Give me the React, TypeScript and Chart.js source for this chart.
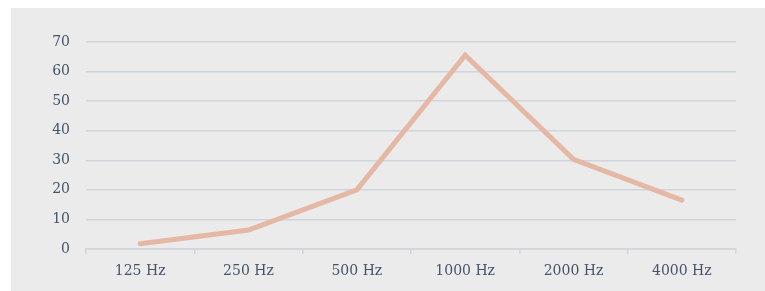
import React, { useEffect, useRef } from "react";
import { Chart, registerables } from "chart.js";

Chart.register(...registerables);

const categories = ["125 Hz", "250 Hz", "500 Hz", "1000 Hz", "2000 Hz", "4000 Hz"];
const values = [1.8, 6.4, 20, 65.5, 30.3, 16.5];
const yMin = 0;
const yMax = 70;
const yStep = 10;

export default function App() {
  const ref = useRef<HTMLCanvasElement | null>(null);
  useEffect(() => {
    if (!ref.current) return;
    const font = { family: "'DejaVu Serif', serif", size: 14 };
    const chart = new Chart(ref.current, {
      type: "line",
      data: {
        labels: categories,
        datasets: [
          {
            data: values,
            borderColor: "#e5b8a6",
            backgroundColor: "#e5b8a6",
            borderWidth: 5,
            borderCapStyle: "round",
            pointRadius: 0,
            tension: 0,
          },
        ],
      },
      options: {
        animation: false,
        responsive: false,
        maintainAspectRatio: false,
        layout: { padding: { top: 34, right: 29, bottom: 0, left: 0 } },
        plugins: { legend: { display: false }, tooltip: { enabled: false } },
        scales: {
          x: {
            offset: true,
            grid: {
              offset: true,
              drawOnChartArea: false,
              drawTicks: true,
              tickLength: 5,
              color: "#d0d5dc",
              lineWidth: 1.5,
            },
            border: { color: "#d0d5dc", width: 1.5 },
            ticks: { color: "#44546a", font, padding: 9, maxRotation: 0 },
            afterFit: (s: any) => {
              s.height = 42;
            },
          },
          y: {
            min: yMin,
            max: yMax,
            ticks: { stepSize: yStep, color: "#44546a", font, padding: 16 },
            grid: { color: "#d0d5dc", lineWidth: 1.5, drawTicks: false },
            border: { display: false },
            afterFit: (s: any) => {
              s.width = 75;
            },
          },
        },
      },
    });
    return () => chart.destroy();
  }, []);
  return (
    <div
      style={{
        position: "fixed",
        left: 11,
        top: 8,
        right: 0,
        bottom: 0,
        background: "#ebebeb",
        overflow: "hidden",
      }}
    >
      <canvas ref={ref} width={754} height={283} style={{ display: "block" }} />
    </div>
  );
}
